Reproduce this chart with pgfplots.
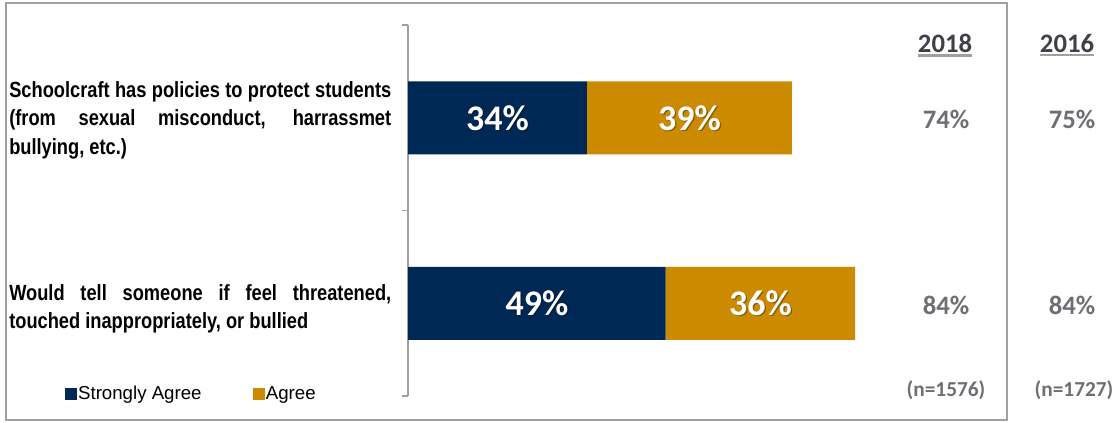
\documentclass[border=0pt]{standalone}
\usepackage{pgfplots}
\pgfplotsset{compat=1.18}
\usepackage{fontspec}
\setmainfont{Liberation Sans}
\newfontfamily\narrow[FakeStretch=0.83]{Liberation Sans}
\newfontfamily\calib{Carlito}
\definecolor{navy}{RGB}{0,40,85}
\definecolor{gold}{RGB}{204,138,0}
\definecolor{numgray}{RGB}{110,110,116}
\definecolor{headgray}{RGB}{64,64,74}
\definecolor{framegray}{RGB}{160,160,160}
\tikzset{barlbl/.style={font=\calib\bfseries\fontsize{27}{27}\selectfont, text=white},
  barshadow/.style={font=\calib\bfseries\fontsize{27}{27}\selectfont, text=black, opacity=0.35, xshift=1pt, yshift=-1pt}}
\begin{document}
\begin{tikzpicture}[x=0.75pt,y=0.75pt]
% outer frame
\draw[framegray, line width=1.5pt] (6,2) rectangle (1007,419);
\begin{axis}[
  at={(306pt,19.5pt)}, anchor=south west,
  scale only axis, width=394.5pt, height=278.25pt,
  xmin=0, xmax=100, ymin=-0.5, ymax=1.5,
  xbar stacked, bar width=54.75pt,
  axis x line=none, axis y line*=left,
  y axis line style={framegray, line width=1.1pt},
  ytick={-0.5,0.5,1.5}, yticklabels={},
  tick align=outside, major tick length=4.5pt,
  ytick style={framegray, line width=1.1pt},
  clip=false,
  legend style={at={(axis description cs:-0.652,0.005)}, anchor=west, draw=none, fill=none,
    inner sep=0pt, legend columns=2, font=\fontsize{14}{14}\selectfont,
    nodes={inner sep=0.6pt},
    /tikz/every even column/.append style={column sep=38pt}},
  legend cell align=left,
  legend image code/.code={\fill[#1] (0pt,-4.5pt) rectangle (9pt,4.5pt);},
]
\addplot[fill=navy, draw=none] coordinates {(34,1) (49,0)};
\addlegendentry{Strongly Agree}
\addplot[fill=gold, draw=none] coordinates {(39,1) (36,0)};
\addlegendentry{Agree}
\coordinate (a1) at (axis cs:17,1);
\coordinate (a2) at (axis cs:53.5,1);
\coordinate (b1) at (axis cs:24.5,0);
\coordinate (b2) at (axis cs:67,0);
\end{axis}
% in-bar labels
\node[barshadow] at (a1) {34\%};
\node[barlbl] at (a1) {34\%};
\node[barshadow] at (a2) {39\%};
\node[barlbl] at (a2) {39\%};
\node[barshadow] at (b1) {49\%};
\node[barlbl] at (b1) {49\%};
\node[barshadow] at (b2) {36\%};
\node[barlbl] at (b2) {36\%};
% category labels
\node[anchor=west, text width=286.5pt, align=justify, inner sep=0pt,
  font=\narrow\bfseries\fontsize{16.5}{21.4}\selectfont] at (9,302)
  {\hyphenpenalty=10000 Schoolcraft has policies to protect students\linebreak (from sexual misconduct, harrassmet\linebreak bullying, etc.)};
\node[anchor=west, text width=286.5pt, align=justify, inner sep=0pt,
  font=\narrow\bfseries\fontsize{16.5}{21.4}\selectfont] at (9,113)
  {\hyphenpenalty=10000 Would tell someone if feel threatened,\linebreak touched inappropriately, or bullied};
% right columns
\begin{scope}[every node/.style={font=\calib\bfseries\fontsize{20}{20}\selectfont, inner sep=0pt}]
\node[text=headgray] (h1) at (945,379) {2018};
\node[text=headgray] (h2) at (1067,379) {2016};
\draw[framegray, line width=1.6pt] ([yshift=-2.5pt]h1.base west) -- ([yshift=-2.5pt]h1.base east);
\draw[framegray, line width=1.6pt] ([yshift=-2.5pt]h2.base west) -- ([yshift=-2.5pt]h2.base east);
\node[text=numgray] at (946,303) {74\%};
\node[text=numgray] at (1072,303) {75\%};
\node[text=numgray] at (946,117) {84\%};
\node[text=numgray] at (1072,117) {84\%};
\end{scope}
\begin{scope}[every node/.style={font=\calib\bfseries\fontsize{16}{16}\selectfont, inner sep=0pt, text=numgray}]
\node at (946,32) {(n=1576)};
\node at (1074,32) {(n=1727)};
\end{scope}
\pgfresetboundingbox
\path (0,0) rectangle (1113,422);
\end{tikzpicture}
\end{document}
